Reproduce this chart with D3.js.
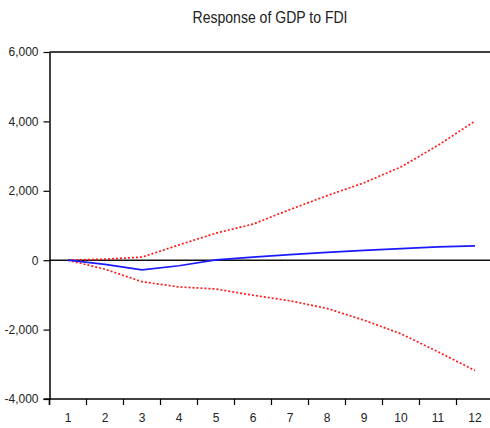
<!DOCTYPE html>
<html>
<head>
<meta charset="utf-8">
<script src="https://cdn.jsdelivr.net/npm/d3@7"></script>
<style>
  html, body { margin: 0; padding: 0; background: #fff; }
  svg { display: block; }
  text { font-family: "Liberation Sans", Arial, sans-serif; fill: #222; }
</style>
</head>
<body>
<svg id="chart" width="490" height="428"></svg>
<script>
// Impulse response of GDP to an FDI shock, with +/- 2 S.E. bands
const periods = ["1", "2", "3", "4", "5", "6", "7", "8", "9", "10", "11", "12"];
const response = [0, -120, -280, -160, 10, 90, 160, 225, 285, 335, 385, 410];
const upperBand = [0, 30, 90, 440, 780, 1040, 1460, 1860, 2230, 2690, 3310, 4010];
const lowerBand = [0, -260, -620, -770, -830, -1010, -1170, -1390, -1730, -2120, -2640, -3180];
const yTickValues = [-4000, -2000, 0, 2000, 4000, 6000];
const yTickLabels = ["-4,000", "-2,000", "0", "2,000", "4,000", "6,000"];
const title = "Response of GDP to FDI";

const svg = d3.select("#chart");
const plotLeft = 49.5, plotRight = 493.5, plotTop = 52, plotBottom = 399;

const x = d3.scaleBand().domain(periods).range([plotLeft, plotRight]).padding(0);
const y = d3.scaleLinear().domain([-4000, 6000]).range([plotBottom, plotTop]);
const cx = p => x(p) + x.bandwidth() / 2;

// title
svg.append("text")
  .attr("x", 270).attr("y", 23)
  .attr("text-anchor", "middle")
  .attr("font-size", 16)
  .attr("textLength", 155)
  .attr("lengthAdjust", "spacingAndGlyphs")
  .text(title);

// top frame line
svg.append("line")
  .attr("x1", plotLeft).attr("x2", 490)
  .attr("y1", y(6000)).attr("y2", y(6000))
  .attr("stroke", "#000").attr("stroke-width", 1.5);

// zero line
svg.append("line")
  .attr("x1", plotLeft).attr("x2", 490)
  .attr("y1", y(0)).attr("y2", y(0))
  .attr("stroke", "#111").attr("stroke-width", 1.6);

// y axis
const yAxis = svg.append("g")
  .attr("transform", `translate(${plotLeft},0)`)
  .call(d3.axisLeft(y).tickValues(yTickValues)
    .tickFormat((d, i) => yTickLabels[i]).tickSize(6).tickSizeOuter(0).tickPadding(5));
yAxis.select(".domain").attr("stroke", "#000").attr("stroke-width", 1.5);
yAxis.selectAll(".tick line").attr("stroke", "#000").attr("stroke-width", 1.2);
yAxis.selectAll(".tick text").attr("font-size", 12).attr("fill", "#222")
  .attr("font-family", "Liberation Sans, Arial, sans-serif");

// x axis: ticks at period boundaries, labels centred in each period
const xAxis = svg.append("g")
  .attr("transform", `translate(0,${plotBottom})`)
  .call(d3.axisBottom(x).tickSize(6).tickSizeOuter(0).tickPadding(8));
xAxis.select(".domain").attr("stroke", "#000").attr("stroke-width", 1.5)
  .attr("d", `M${plotLeft - 6},0H${plotRight}`);
xAxis.selectAll(".tick line")
  .attr("x1", -x.bandwidth() / 2).attr("x2", -x.bandwidth() / 2)
  .attr("stroke", "#000").attr("stroke-width", 1.2);
xAxis.selectAll(".tick text").attr("font-size", 12).attr("fill", "#222")
  .attr("font-family", "Liberation Sans, Arial, sans-serif");

// extend y-axis line down to the x tick length
svg.append("line")
  .attr("x1", plotLeft).attr("x2", plotLeft)
  .attr("y1", plotBottom).attr("y2", plotBottom + 6)
  .attr("stroke", "#000").attr("stroke-width", 1.5);

const line = d3.line().x((d, i) => cx(periods[i])).y(d => y(d));

svg.append("path").datum(upperBand)
  .attr("d", line).attr("fill", "none")
  .attr("stroke", "#ff1a1a").attr("stroke-width", 1.7)
  .attr("stroke-dasharray", "2,2");

svg.append("path").datum(lowerBand)
  .attr("d", line).attr("fill", "none")
  .attr("stroke", "#ff1a1a").attr("stroke-width", 1.7)
  .attr("stroke-dasharray", "2,2");

svg.append("path").datum(response)
  .attr("d", line).attr("fill", "none")
  .attr("stroke", "#1a1aff").attr("stroke-width", 1.7);
</script>
</body>
</html>
